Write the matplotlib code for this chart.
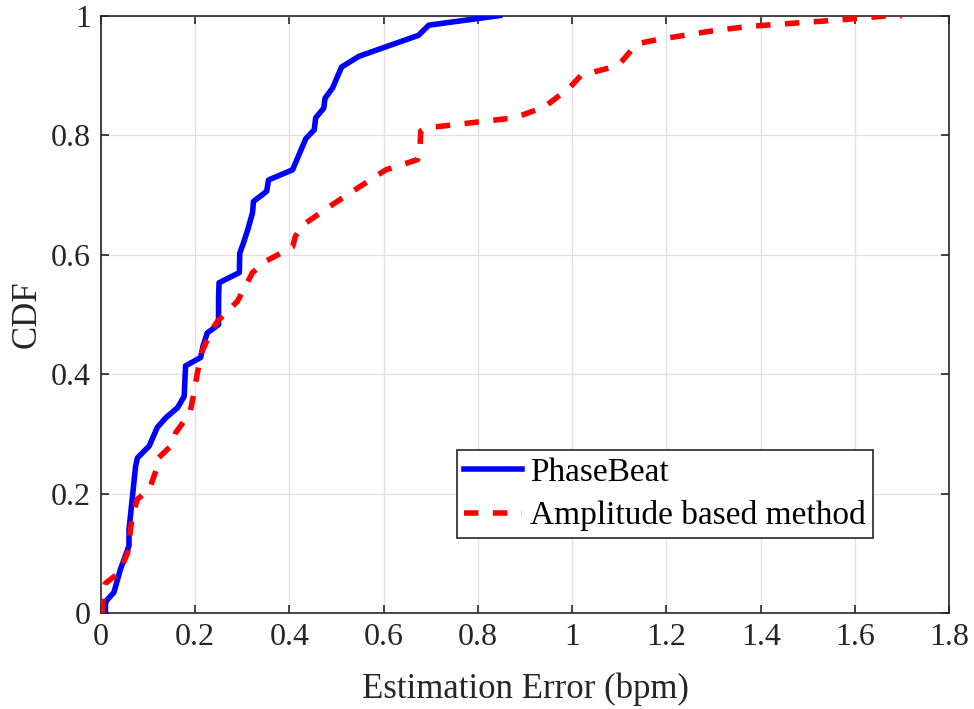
import matplotlib
matplotlib.use("Agg")
import matplotlib.pyplot as plt
from matplotlib.ticker import FuncFormatter

# PhaseBeat CDF points (x: estimation error in bpm, y: CDF)
phase_x = [0.010, 0.010, 0.012, 0.028, 0.042, 0.060, 0.060, 0.074, 0.078, 0.103,
           0.120, 0.138, 0.163, 0.177, 0.180, 0.212, 0.217, 0.226, 0.250, 0.250,
           0.251, 0.294, 0.295, 0.303, 0.312, 0.322, 0.324, 0.352, 0.356, 0.407,
           0.435, 0.453, 0.456, 0.473, 0.476, 0.492, 0.500, 0.511, 0.548, 0.674,
           0.696, 0.846]
phase_y = [0.000, 0.015, 0.021, 0.035, 0.074, 0.113, 0.140, 0.246, 0.260, 0.280,
           0.311, 0.327, 0.344, 0.363, 0.414, 0.428, 0.447, 0.469, 0.483, 0.525,
           0.553, 0.570, 0.603, 0.620, 0.642, 0.670, 0.689, 0.706, 0.725, 0.742,
           0.794, 0.809, 0.829, 0.845, 0.862, 0.879, 0.894, 0.914, 0.932, 0.967,
           0.984, 1.000]

# Amplitude based method CDF points
amp_x = [0.003, 0.003, 0.010, 0.039, 0.057, 0.067, 0.078, 0.103, 0.117, 0.120,
         0.149, 0.159, 0.179, 0.190, 0.198, 0.205, 0.214, 0.234, 0.248, 0.276,
         0.290, 0.322, 0.350, 0.407, 0.413, 0.435, 0.492, 0.548, 0.605, 0.672,
         0.677, 0.679, 0.690, 0.878, 0.941, 0.994, 1.019, 1.086, 1.104, 1.130,
         1.139, 1.182, 1.302, 1.376, 1.571, 1.660, 1.700]
amp_y = [0.000, 0.030, 0.050, 0.068, 0.101, 0.163, 0.191, 0.207, 0.238, 0.258,
         0.280, 0.302, 0.324, 0.338, 0.369, 0.402, 0.436, 0.472, 0.489, 0.511,
         0.522, 0.570, 0.589, 0.613, 0.631, 0.653, 0.684, 0.713, 0.742, 0.759,
         0.776, 0.807, 0.812, 0.829, 0.847, 0.879, 0.900, 0.914, 0.922, 0.946,
         0.953, 0.960, 0.975, 0.982, 0.993, 0.999, 1.000]

series_labels = ["PhaseBeat", "Amplitude based method"]
x_ticks = [0, 0.2, 0.4, 0.6, 0.8, 1.0, 1.2, 1.4, 1.6, 1.8]
y_ticks = [0, 0.2, 0.4, 0.6, 0.8, 1.0]

plt.rcParams['font.family'] = ['Liberation Serif', 'DejaVu Serif']
plt.rcParams['mathtext.fontset'] = 'stix'

fig = plt.figure(figsize=(9.74, 7.09), dpi=100)
ax = fig.add_axes([0.1034, 0.135, 0.8712, 0.843])

dark = '#262626'
ax.plot(phase_x, phase_y, color='#0000ff', lw=4, solid_joinstyle='round',
        label=series_labels[0], zorder=3)
ax.plot(amp_x, amp_y, color='#ff0000', lw=4, linestyle=(0, (2.6, 2.6)),
        label=series_labels[1], zorder=4)

ax.set_xlim(0, 1.8)
ax.set_ylim(0, 1)
ax.set_xticks(x_ticks)
ax.set_yticks(y_ticks)
fmt = FuncFormatter(lambda v, p: ('%g' % round(v, 2)))
ax.xaxis.set_major_formatter(fmt)
ax.yaxis.set_major_formatter(fmt)

ax.grid(True, color='#e1e1e1', lw=1.0)
ax.set_axisbelow(True)
for s in ax.spines.values():
    s.set_color(dark)
    s.set_linewidth(1.2)
ax.tick_params(direction='in', length=6, width=1.2, colors=dark,
               labelsize=23, top=True, right=True, pad=7)
for lbl in ax.get_xticklabels() + ax.get_yticklabels():
    lbl.set_color(dark)

ax.set_xlabel('Estimation Error (bpm)', fontsize=25, color=dark, labelpad=15)
ax.set_ylabel('CDF', fontsize=25, color=dark, labelpad=5)

leg = ax.legend(loc='lower right', bbox_to_anchor=(0.910, 0.126), fontsize=24,
                frameon=True, fancybox=False, edgecolor=dark, framealpha=1,
                handlelength=1.75, handletextpad=0.24, borderpad=0.2,
                labelspacing=0.38, borderaxespad=0)
leg.get_frame().set_linewidth(1.2)

fig.savefig('out.png', dpi=100)
